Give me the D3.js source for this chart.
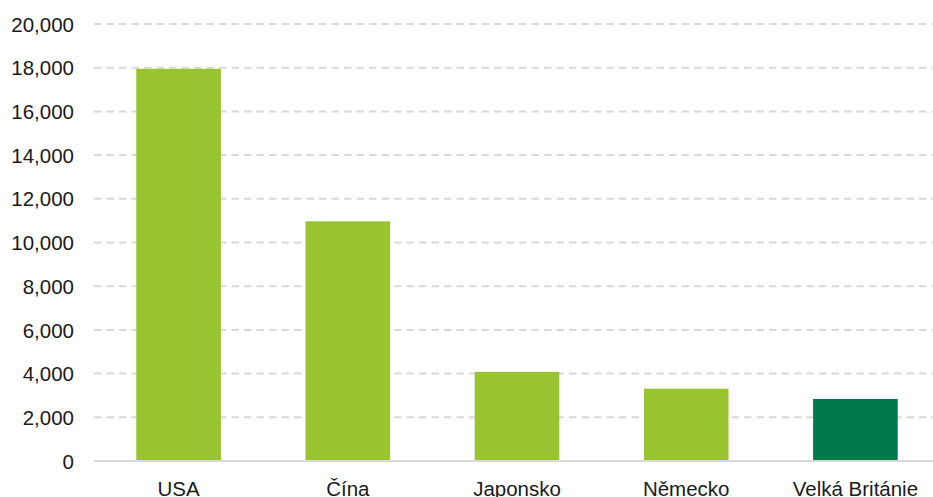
<!DOCTYPE html>
<html><head><meta charset="utf-8">
<script src="https://cdn.jsdelivr.net/npm/d3@7"></script>
<style>
html,body{margin:0;padding:0;background:#fff;overflow:hidden}
text{font-family:"Liberation Sans",Arial,sans-serif;fill:#1a1a1a}
</style></head>
<body>
<svg id="chart" width="933" height="497"></svg>
<script>
const categories = ["USA", "Čína", "Japonsko", "Německo", "Velká Británie"];
const values = [17950, 10970, 4080, 3310, 2840];
const barColors = ["#97c42f", "#97c42f", "#97c42f", "#97c42f", "#007a4a"];
const yTicks = [0, 2000, 4000, 6000, 8000, 10000, 12000, 14000, 16000, 18000, 20000];

const svg = d3.select("#chart");
const x = d3.scaleBand().domain(categories).range([94, 940]).paddingInner(0.5).paddingOuter(0.25);
const y = d3.scaleLinear().domain([0, 20000]).range([461, 24]);
const fmt = d3.format(",");

// gridlines
svg.append("g").selectAll("line").data(yTicks.filter(d => d > 0)).join("line")
  .attr("x1", 94).attr("x2", 933)
  .attr("y1", d => y(d)).attr("y2", d => y(d))
  .attr("stroke", "#d9d9d9").attr("stroke-width", 2).attr("stroke-dasharray", "7.5,5");

// bars
svg.append("g").selectAll("rect").data(categories).join("rect")
  .attr("x", d => x(d)).attr("width", x.bandwidth())
  .attr("y", (d, i) => y(values[i])).attr("height", (d, i) => y(0) - y(values[i]))
  .attr("fill", (d, i) => barColors[i]);

// baseline
svg.append("line").attr("x1", 94).attr("x2", 933).attr("y1", y(0)).attr("y2", y(0))
  .attr("stroke", "#d9d9d9").attr("stroke-width", 2);

// y axis labels
const yAxis = d3.axisLeft(y).tickValues(yTicks).tickFormat(fmt).tickSize(0).tickPadding(0);
const ya = svg.append("g").attr("transform", "translate(74,0)").call(yAxis);
ya.select(".domain").remove();
ya.selectAll("text").attr("font-size", 20.5).attr("fill", "#1a1a1a").attr("font-family", "Liberation Sans, Arial, sans-serif").attr("dy", "0.35em");

// x axis labels
const xAxis = d3.axisBottom(x).tickSize(0).tickPadding(0);
const xa = svg.append("g").attr("transform", "translate(0,481)").call(xAxis);
xa.select(".domain").remove();
xa.selectAll("text").attr("font-size", 20.5).attr("fill", "#1a1a1a").attr("font-family", "Liberation Sans, Arial, sans-serif").attr("dy", "0.71em");
</script>
</body></html>
